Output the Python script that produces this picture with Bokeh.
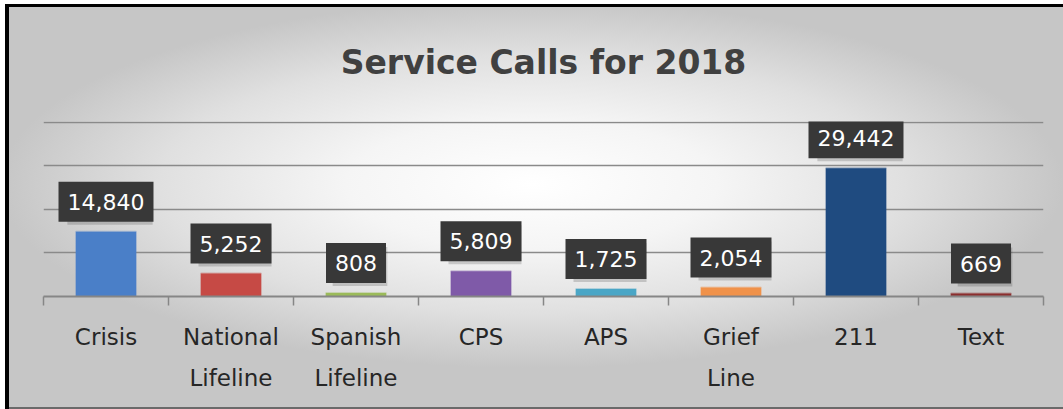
from bokeh.plotting import figure
from bokeh.models import (ColumnDataSource, Range1d, LinearAxis, FixedTicker, Grid)
from bokeh.embed import file_html
from bokeh.resources import INLINE
from bokeh.core.properties import value

# ---- data ----
categories = ["Crisis", "National\nLifeline", "Spanish\nLifeline", "CPS", "APS", "Grief\nLine", "211", "Text"]
calls = [14840, 5252, 808, 5809, 1725, 2054, 29442, 669]
bar_colors = ["#4a7fc8", "#c64a45", "#9bbb59", "#7f5aa8", "#4aa6c6", "#f0924a", "#1f4b80", "#8c2f2f"]
title_text = "Service Calls for 2018"
y_max = 40000
grid_step = 10000

n = len(categories)
centers = [i + 0.5 for i in range(n)]
bounds = list(range(n + 1))
labels = [f"{v:,}" for v in calls]
source = ColumnDataSource(dict(x=centers, calls=calls, color=bar_colors, label=labels))

p = figure(width=1063, height=409, x_range=Range1d(0, n), y_range=Range1d(0, y_max * 1.004),
           output_backend="svg", toolbar_location=None, x_axis_location=None, y_axis_location=None,
           min_border_left=43, min_border_right=20, min_border_top=119, min_border_bottom=113,
           background_fill_color=None, border_fill_color=None, outline_line_color=None)
p.styles = {
    "background": "radial-gradient(ellipse closest-side at 50% 45%, #ffffff 0%, #f5f5f5 35%, #e0e0e0 70%, #c6c6c6 100%)",
    "box-shadow": "inset 5px 4px 0 0 #ffffff, inset 9px 7px 0 0 #000000, inset 0 -2px 0 0 #6a6a6a",
}
for g in p.grid:
    g.visible = False

# title
p.title.text = title_text
p.title.align = "center"
p.title.text_font = "DejaVu Sans"
p.title.text_font_size = "33px"
p.title.text_font_style = "bold"
p.title.text_color = "#404040"
p.title.standoff = 80

# gridlines
grid = Grid(dimension=1, ticker=FixedTicker(ticks=list(range(grid_step, y_max + 1, grid_step))),
            grid_line_color="#8a8a8a", grid_line_width=1.5)
p.add_layout(grid)

# bars
p.vbar(x="x", top="calls", width=0.48, source=source, fill_color="color",
       line_color="color", line_alpha=0.35, line_width=2)

# category axis: labels at centers, boundary ticks as minor ticks
xax = LinearAxis(ticker=FixedTicker(ticks=centers, minor_ticks=bounds),
                 major_label_overrides={c: lab for c, lab in zip(centers, categories)},
                 axis_line_color="#868686", axis_line_width=2,
                 major_tick_line_color=None, major_tick_out=0, major_tick_in=0,
                 minor_tick_line_color="#868686", minor_tick_line_width=1.5,
                 minor_tick_out=9, minor_tick_in=0,
                 major_label_standoff=18, major_label_text_font_size="23px",
                 major_label_text_font="DejaVu Sans", major_label_text_color="#262626",
                 major_label_text_line_height=1.6)
p.add_layout(xax, "below")

# data labels (shadow + box)
p.text(x="x", y="calls", text="label", source=source, text_align="center",
       text_baseline="bottom", y_offset=-7, x_offset=4, text_font_size="22px",
       text_alpha=0, background_fill_color="#000000", background_fill_alpha=0.16, padding=(9, 12))
p.text(x="x", y="calls", text="label", source=source, text_align="center",
       text_baseline="bottom", y_offset=-10, text_font_size="22px", text_font=value("DejaVu Sans"),
       text_color="#ffffff", background_fill_color="#383838", padding=(9, 12))

open("out.html", "w").write(file_html(p, INLINE))
